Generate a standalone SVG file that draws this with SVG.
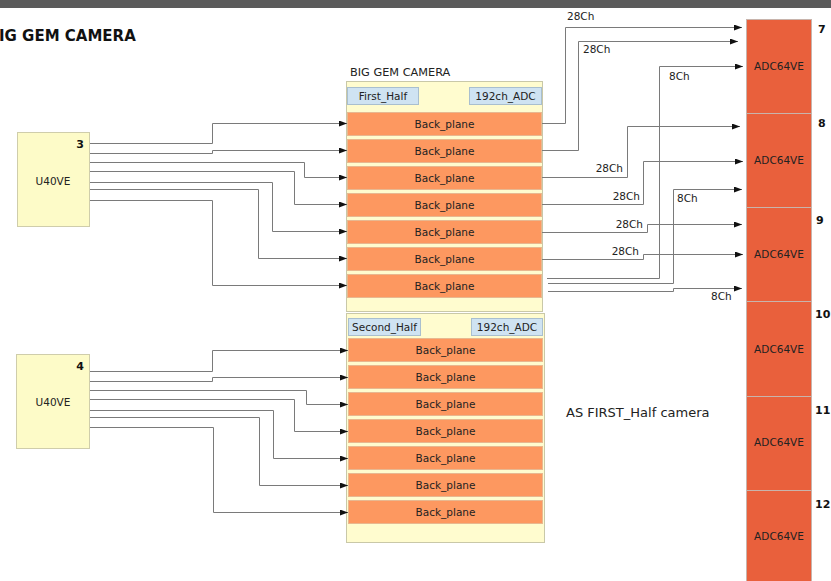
<svg xmlns="http://www.w3.org/2000/svg" width="831" height="581" viewBox="0 0 831 581">
<style>
text{font-family:"DejaVu Sans",Verdana,sans-serif;fill:#222}
.t{font-size:10.5px}
.b{font-weight:bold;font-size:11px;fill:#111}
.cont{fill:#fffccf;stroke:#c9c8a8;stroke-width:1}
.hdr{fill:#cfe3f2;stroke:#a9bfcf;stroke-width:1}
.bp{fill:#fd9860;stroke:#e8b890;stroke-width:1}
.u{fill:#fdfbc8;stroke:#cfcdab;stroke-width:1}
.adc{fill:#e9603c;stroke:#c8b4ac;stroke-width:1}
.c{fill:none;stroke:#7a7a7a;stroke-width:1}
</style>
<defs>
<marker id="ar" markerUnits="userSpaceOnUse" markerWidth="9" markerHeight="6" refX="8" refY="3" orient="auto">
<path d="M0,0 L8,3 L0,6 z" fill="#111"/>
</marker>
</defs>
<rect x="0" y="0" width="831" height="581" fill="#fff"/>
<rect x="0" y="0" width="831" height="8" fill="#5b5b5b"/>
<text x="-1" y="41" style="font-size:15px;font-weight:bold;fill:#111">IG GEM CAMERA</text>

<g id="first_half">
<text x="350" y="76" style="font-size:11.3px">BIG GEM CAMERA</text>
<rect class="cont" x="346.5" y="81.5" width="196" height="230"/>
<rect class="hdr" x="347.5" y="87.5" width="71" height="17"/>
<text class="t" x="383" y="100" text-anchor="middle">First_Half</text>
<rect class="hdr" x="469.5" y="87.5" width="72" height="17"/>
<text class="t" x="505.5" y="100" text-anchor="middle">192ch_ADC</text>
</g>
<g id="bp1_1"><rect class="bp" x="347.5" y="112.5" width="194" height="23"/><text class="t" x="444.5" y="127.5" text-anchor="middle">Back_plane</text></g>
<g id="bp1_2"><rect class="bp" x="347.5" y="139.5" width="194" height="23"/><text class="t" x="444.5" y="154.5" text-anchor="middle">Back_plane</text></g>
<g id="bp1_3"><rect class="bp" x="347.5" y="166.5" width="194" height="23"/><text class="t" x="444.5" y="181.5" text-anchor="middle">Back_plane</text></g>
<g id="bp1_4"><rect class="bp" x="347.5" y="193.5" width="194" height="23"/><text class="t" x="444.5" y="208.5" text-anchor="middle">Back_plane</text></g>
<g id="bp1_5"><rect class="bp" x="347.5" y="220.5" width="194" height="23"/><text class="t" x="444.5" y="235.5" text-anchor="middle">Back_plane</text></g>
<g id="bp1_6"><rect class="bp" x="347.5" y="247.5" width="194" height="23"/><text class="t" x="444.5" y="262.5" text-anchor="middle">Back_plane</text></g>
<g id="bp1_7"><rect class="bp" x="347.5" y="274.5" width="194" height="23"/><text class="t" x="444.5" y="289.5" text-anchor="middle">Back_plane</text></g>

<g id="second_half">
<rect class="cont" x="346.5" y="313.5" width="198" height="229"/>
<rect class="hdr" x="348.5" y="318.5" width="72" height="17"/>
<text class="t" x="384.5" y="331" text-anchor="middle">Second_Half</text>
<rect class="hdr" x="471.5" y="318.5" width="71" height="17"/>
<text class="t" x="507" y="331" text-anchor="middle">192ch_ADC</text>
</g>
<g id="bp2_1"><rect class="bp" x="348.5" y="338.5" width="194" height="23"/><text class="t" x="445.5" y="353.5" text-anchor="middle">Back_plane</text></g>
<g id="bp2_2"><rect class="bp" x="348.5" y="365.5" width="194" height="23"/><text class="t" x="445.5" y="380.5" text-anchor="middle">Back_plane</text></g>
<g id="bp2_3"><rect class="bp" x="348.5" y="392.5" width="194" height="23"/><text class="t" x="445.5" y="407.5" text-anchor="middle">Back_plane</text></g>
<g id="bp2_4"><rect class="bp" x="348.5" y="419.5" width="194" height="23"/><text class="t" x="445.5" y="434.5" text-anchor="middle">Back_plane</text></g>
<g id="bp2_5"><rect class="bp" x="348.5" y="446.5" width="194" height="23"/><text class="t" x="445.5" y="461.5" text-anchor="middle">Back_plane</text></g>
<g id="bp2_6"><rect class="bp" x="348.5" y="473.5" width="194" height="23"/><text class="t" x="445.5" y="488.5" text-anchor="middle">Back_plane</text></g>
<g id="bp2_7"><rect class="bp" x="348.5" y="500.5" width="194" height="23"/><text class="t" x="445.5" y="515.5" text-anchor="middle">Back_plane</text></g>

<g id="u40ve_3">
<rect class="u" x="17.5" y="132.5" width="72" height="94"/>
<text class="b" x="84" y="148" text-anchor="end">3</text>
<text class="t" x="53" y="185" text-anchor="middle">U40VE</text>
</g>
<g id="u40ve_4">
<rect class="u" x="16.5" y="354.5" width="73" height="94"/>
<text class="b" x="84" y="370" text-anchor="end">4</text>
<text class="t" x="53" y="406" text-anchor="middle">U40VE</text>
</g>

<g id="adc_7"><rect class="adc" x="746.5" y="19.5" width="65" height="94"/><text class="t" x="779" y="70" text-anchor="middle">ADC64VE</text><text class="b" x="818" y="33">7</text></g>
<g id="adc_8"><rect class="adc" x="746.5" y="113.5" width="65" height="94"/><text class="t" x="779" y="164" text-anchor="middle">ADC64VE</text><text class="b" x="818" y="127">8</text></g>
<g id="adc_9"><rect class="adc" x="746.5" y="207.5" width="65" height="94"/><text class="t" x="779" y="258" text-anchor="middle">ADC64VE</text><text class="b" x="816" y="224">9</text></g>
<g id="adc_10"><rect class="adc" x="746.5" y="301.5" width="65" height="95"/><text class="t" x="779" y="353" text-anchor="middle">ADC64VE</text><text class="b" x="815" y="318">10</text></g>
<g id="adc_11"><rect class="adc" x="746.5" y="396.5" width="65" height="94"/><text class="t" x="779" y="446" text-anchor="middle">ADC64VE</text><text class="b" x="815" y="414">11</text></g>
<g id="adc_12"><rect class="adc" x="746.5" y="490.5" width="65" height="95"/><text class="t" x="779" y="540" text-anchor="middle">ADC64VE</text><text class="b" x="815" y="508">12</text></g>

<text x="566" y="417" style="font-size:13px">AS FIRST_Half camera</text>

<g id="connectors">
<path class="c" marker-end="url(#ar)" d="M90,143.5 H212.5 V123.5 H347"/>
<path class="c" marker-end="url(#ar)" d="M90,153.5 H212.5 V150.5 H347"/>
<path class="c" marker-end="url(#ar)" d="M90,162.5 H304.5 V177.5 H347"/>
<path class="c" marker-end="url(#ar)" d="M90,171.5 H294.5 V204.5 H347"/>
<path class="c" marker-end="url(#ar)" d="M90,182.5 H272.5 V231.5 H347"/>
<path class="c" marker-end="url(#ar)" d="M90,189.5 H258.5 V258.5 H347"/>
<path class="c" marker-end="url(#ar)" d="M90,200.5 H212.5 V285.5 H347"/>

<path class="c" marker-end="url(#ar)" d="M90,371.5 H212.5 V350.5 H348"/>
<path class="c" marker-end="url(#ar)" d="M90,381.5 H212.5 V377.5 H348"/>
<path class="c" marker-end="url(#ar)" d="M90,390.5 H306.5 V404.5 H348"/>
<path class="c" marker-end="url(#ar)" d="M90,399.5 H294.5 V431.5 H348"/>
<path class="c" marker-end="url(#ar)" d="M90,410.5 H273.5 V458.5 H348"/>
<path class="c" marker-end="url(#ar)" d="M90,417.5 H259.5 V485.5 H348"/>
<path class="c" marker-end="url(#ar)" d="M90,427.5 H213.5 V512.5 H348"/>

<path class="c" marker-end="url(#ar)" d="M542,123.5 H565.5 V27.5 H742"/>
<path class="c" marker-end="url(#ar)" d="M542,150.5 H578.5 V41.5 H738"/>
<path class="c" marker-end="url(#ar)" d="M542,177.5 H627.5 V126.5 H740"/>
<path class="c" marker-end="url(#ar)" d="M542,204.5 H643.5 V161.5 H743"/>
<path class="c" marker-end="url(#ar)" d="M542,232.5 H647.5 V224.5 H742"/>
<path class="c" marker-end="url(#ar)" d="M542,259.5 H643.5 V254.5 H743"/>
<path class="c" marker-end="url(#ar)" d="M547,278.5 H659.5 V66.5 H743"/>
<path class="c" marker-end="url(#ar)" d="M548,283.5 H673.5 V189.5 H742"/>
<path class="c" marker-end="url(#ar)" d="M548,291.5 H673.5 V288.5 H742"/>

<text class="t" x="567" y="20">28Ch</text>
<text class="t" x="583" y="53">28Ch</text>
<text class="t" x="669" y="80">8Ch</text>
<text class="t" x="623" y="172" text-anchor="end">28Ch</text>
<text class="t" x="640" y="200" text-anchor="end">28Ch</text>
<text class="t" x="677" y="202">8Ch</text>
<text class="t" x="643" y="228" text-anchor="end">28Ch</text>
<text class="t" x="639" y="255" text-anchor="end">28Ch</text>
<text class="t" x="711" y="300">8Ch</text>
</g>
</svg>
